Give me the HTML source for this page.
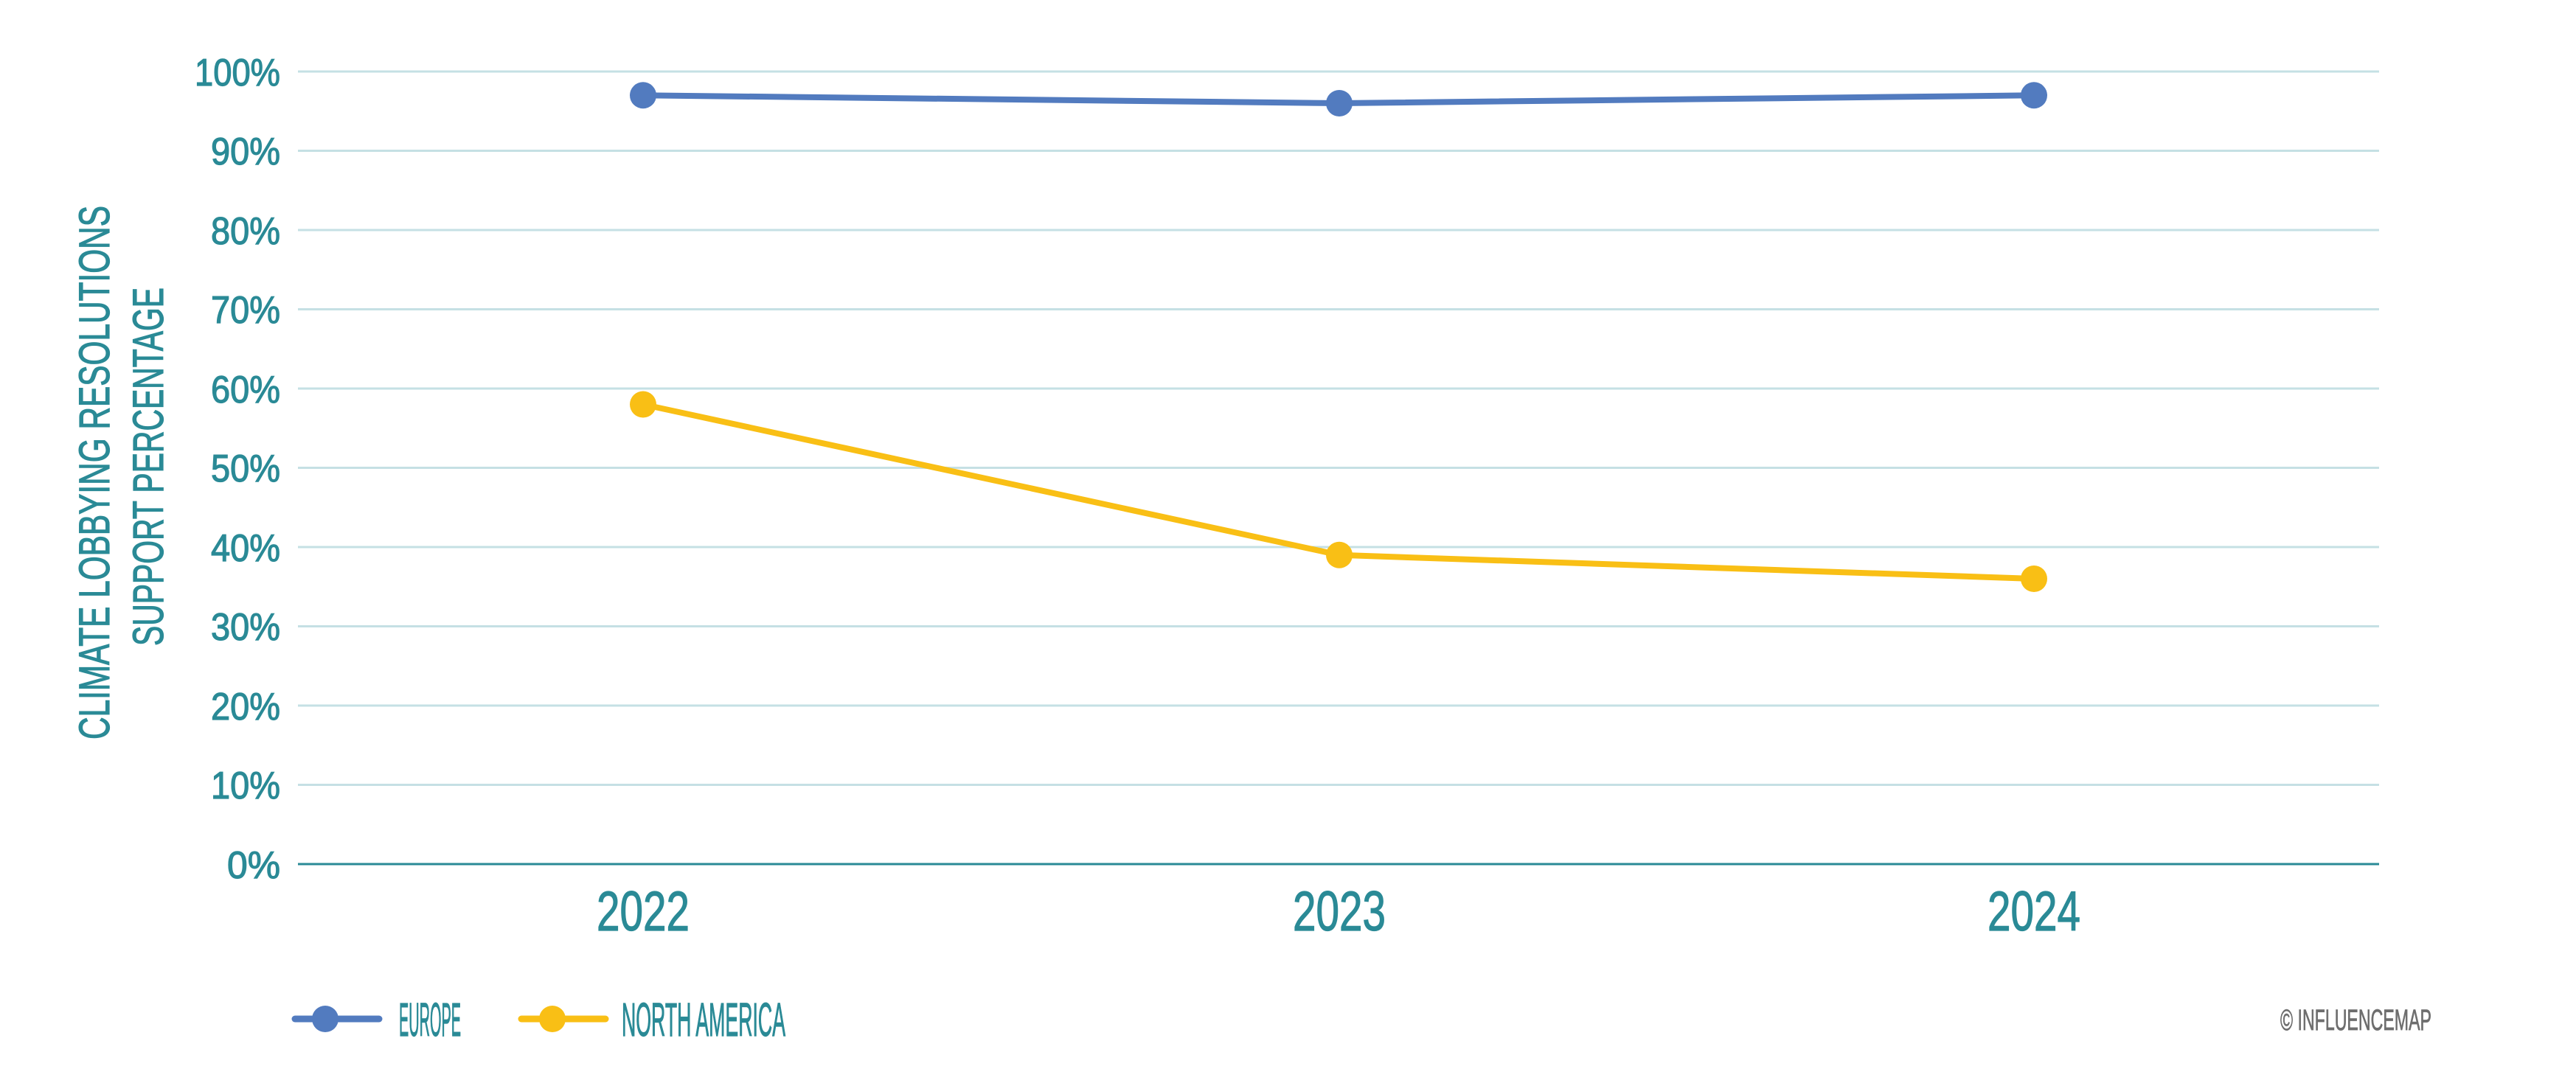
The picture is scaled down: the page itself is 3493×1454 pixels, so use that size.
<!DOCTYPE html>
<html><head><meta charset="utf-8"><style>
html,body{margin:0;padding:0;background:#fff;}
svg{display:block;}
text{font-family:"Liberation Sans",sans-serif;fill:#2a8a96;stroke:#2a8a96;stroke-width:1.2;}
</style></head><body>
<svg width="3493" height="1454" viewBox="0 0 3493 1454" xmlns="http://www.w3.org/2000/svg">
<g stroke="#c5e0e4" stroke-width="3">
<line x1="404" y1="97" x2="3226" y2="97"/>
<line x1="404" y1="204.5" x2="3226" y2="204.5"/>
<line x1="404" y1="312" x2="3226" y2="312"/>
<line x1="404" y1="419.5" x2="3226" y2="419.5"/>
<line x1="404" y1="527" x2="3226" y2="527"/>
<line x1="404" y1="634.5" x2="3226" y2="634.5"/>
<line x1="404" y1="742" x2="3226" y2="742"/>
<line x1="404" y1="849.5" x2="3226" y2="849.5"/>
<line x1="404" y1="957" x2="3226" y2="957"/>
<line x1="404" y1="1064.5" x2="3226" y2="1064.5"/>
</g>
<line x1="404" y1="1172" x2="3226" y2="1172" stroke="#2a8a96" stroke-width="3"/>
<g font-size="52" text-anchor="end">
<text x="380" y="116" textLength="116" lengthAdjust="spacingAndGlyphs">100%</text>
<text x="380" y="223" textLength="94" lengthAdjust="spacingAndGlyphs">90%</text>
<text x="380" y="331" textLength="94" lengthAdjust="spacingAndGlyphs">80%</text>
<text x="380" y="438" textLength="94" lengthAdjust="spacingAndGlyphs">70%</text>
<text x="380" y="546" textLength="94" lengthAdjust="spacingAndGlyphs">60%</text>
<text x="380" y="653" textLength="94" lengthAdjust="spacingAndGlyphs">50%</text>
<text x="380" y="761" textLength="94" lengthAdjust="spacingAndGlyphs">40%</text>
<text x="380" y="868" textLength="94" lengthAdjust="spacingAndGlyphs">30%</text>
<text x="380" y="976" textLength="94" lengthAdjust="spacingAndGlyphs">20%</text>
<text x="380" y="1083" textLength="94" lengthAdjust="spacingAndGlyphs">10%</text>
<text x="380" y="1191" textLength="72" lengthAdjust="spacingAndGlyphs">0%</text>
</g>
<g font-size="58" text-anchor="middle">
<text transform="translate(148,641) rotate(-90)" textLength="724" lengthAdjust="spacingAndGlyphs">CLIMATE LOBBYING RESOLUTIONS</text>
<text transform="translate(221,633) rotate(-90)" textLength="486" lengthAdjust="spacingAndGlyphs">SUPPORT PERCENTAGE</text>
</g>
<g font-size="76" text-anchor="middle">
<text x="872" y="1262" textLength="126" lengthAdjust="spacingAndGlyphs">2022</text>
<text x="1816" y="1262" textLength="126" lengthAdjust="spacingAndGlyphs">2023</text>
<text x="2758" y="1262" textLength="126" lengthAdjust="spacingAndGlyphs">2024</text>
</g>
<polyline points="872,129.3 1816,140 2758,129.3" fill="none" stroke="#527bbf" stroke-width="8" stroke-linejoin="round"/>
<polyline points="872,548.5 1816,752.8 2758,785" fill="none" stroke="#f9bf15" stroke-width="8" stroke-linejoin="round"/>
<g fill="#527bbf">
<circle cx="872" cy="129.3" r="18"/><circle cx="1816" cy="140" r="18"/><circle cx="2758" cy="129.3" r="18"/>
</g>
<g fill="#f9bf15">
<circle cx="872" cy="548.5" r="18"/><circle cx="1816" cy="752.8" r="18"/><circle cx="2758" cy="785" r="18"/>
</g>
<line x1="400" y1="1382" x2="514" y2="1382" stroke="#527bbf" stroke-width="9" stroke-linecap="round"/>
<circle cx="441" cy="1382" r="18" fill="#527bbf"/>
<line x1="707" y1="1382" x2="821" y2="1382" stroke="#f9bf15" stroke-width="9" stroke-linecap="round"/>
<circle cx="749" cy="1382" r="18" fill="#f9bf15"/>
<g font-size="64">
<text x="541" y="1405" textLength="84" lengthAdjust="spacingAndGlyphs">EUROPE</text>
<text x="843" y="1405" textLength="222" lengthAdjust="spacingAndGlyphs">NORTH AMERICA</text>
</g>
<text x="3092" y="1397" font-size="40" style="fill:#6e6e6e;stroke:#6e6e6e;stroke-width:0.8" textLength="205" lengthAdjust="spacingAndGlyphs">© INFLUENCEMAP</text>
</svg>
</body></html>
